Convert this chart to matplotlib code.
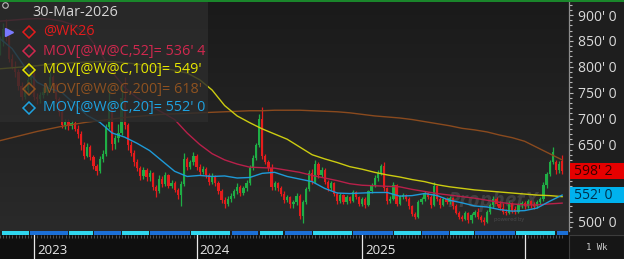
import matplotlib
matplotlib.use("Agg")
import matplotlib.pyplot as plt
import matplotlib.transforms as mtransforms
from matplotlib.patches import Rectangle
from matplotlib.lines import Line2D
from matplotlib.colors import LinearSegmentedColormap
from matplotlib.ticker import MultipleLocator
import numpy as np
import pandas as pd

plt.rcParams['font.family'] = ['Open Sans', 'DejaVu Sans']

# weekly bars, @W continuation, week starting Mondays
dates = pd.date_range("2022-10-17", periods=181, freq="7D")

opens = [835, 848, 872, 860, 815, 800, 790, 762, 742, 756,
         775, 790, 742, 738, 746, 752, 760, 780, 765, 738,
         712, 688, 694, 686, 692, 680, 670, 648, 628, 645,
         625, 608, 598, 622, 632, 684, 722, 650, 662, 672,
         740, 688, 648, 634, 615, 604, 588, 600, 586, 594,
         568, 560, 584, 574, 590, 570, 576, 562, 552, 574,
         622, 606, 616, 628, 606, 596, 602, 590, 578, 588,
         575, 560, 542, 534, 545, 550, 560, 568, 556, 566,
         576, 605, 624, 648, 700, 628, 616, 604, 568, 575,
         566, 555, 542, 548, 534, 538, 550, 512, 538, 564,
         594, 578, 612, 590, 600, 578, 565, 575, 555, 540,
         552, 538, 548, 540, 558, 548, 535, 545, 532, 560,
         572, 585, 595, 608, 565, 540, 545, 572, 535, 548,
         552, 545, 530, 516, 510, 538, 545, 556, 548, 532,
         570, 544, 533, 545, 538, 547, 530, 518, 509, 506,
         518, 503, 514, 520, 510, 504, 500, 520, 532, 545,
         535, 528, 520, 518, 536, 526, 520, 532, 537, 530,
         540, 533, 530, 538, 544, 572, 592, 615, 616, 600,
         618]
highs = [860, 885, 893, 866, 825, 812, 795, 770, 762, 780,
         795, 792, 750, 752, 760, 765, 790, 785, 768, 742,
         718, 700, 700, 698, 696, 688, 675, 655, 652, 648,
         630, 612, 628, 640, 690, 758, 726, 668, 690, 765,
         780, 692, 656, 640, 622, 608, 606, 604, 600, 596,
         572, 590, 588, 596, 592, 582, 580, 566, 580, 634,
         625, 620, 636, 632, 612, 608, 606, 594, 594, 590,
         580, 564, 548, 550, 556, 564, 576, 572, 570, 582,
         610, 630, 652, 708, 722, 632, 620, 612, 580, 578,
         570, 560, 552, 550, 542, 556, 554, 542, 568, 600,
         602, 620, 615, 606, 604, 582, 580, 578, 558, 556,
         555, 552, 550, 562, 560, 550, 548, 548, 562, 576,
         590, 600, 612, 616, 568, 550, 577, 574, 552, 556,
         554, 548, 532, 520, 542, 548, 560, 558, 552, 577,
         572, 548, 548, 548, 550, 549, 534, 522, 514, 522,
         520, 518, 524, 528, 514, 510, 524, 536, 550, 548,
         540, 536, 526, 540, 539, 530, 536, 540, 541, 544,
         542, 538, 542, 548, 578, 596, 620, 645, 620, 618,
         630]
lows = [822, 840, 850, 810, 795, 780, 755, 735, 738, 750,
        765, 735, 728, 730, 740, 745, 755, 755, 730, 705,
        682, 680, 678, 680, 675, 662, 640, 622, 625, 620,
        602, 590, 595, 615, 628, 680, 640, 642, 655, 668,
        680, 640, 628, 608, 598, 582, 584, 580, 580, 562,
        548, 556, 568, 570, 565, 566, 558, 545, 530, 570,
        600, 602, 610, 600, 590, 592, 585, 572, 574, 570,
        555, 536, 528, 530, 538, 546, 554, 550, 552, 560,
        572, 600, 620, 645, 622, 612, 598, 562, 562, 560,
        550, 536, 538, 528, 527, 532, 506, 498, 535, 560,
        574, 575, 585, 586, 574, 560, 562, 550, 534, 536,
        534, 535, 536, 538, 545, 530, 530, 528, 530, 556,
        568, 580, 590, 560, 535, 536, 542, 530, 532, 544,
        540, 526, 512, 505, 508, 534, 540, 544, 528, 530,
        540, 528, 530, 534, 535, 526, 515, 505, 502, 503,
        498, 498, 510, 505, 500, 494, 498, 516, 528, 530,
        524, 516, 514, 515, 518, 516, 518, 528, 526, 527,
        528, 526, 527, 534, 540, 566, 588, 612, 592, 595,
        592]
closes = [848, 872, 860, 815, 800, 790, 762, 742, 756, 775,
          790, 742, 738, 746, 752, 760, 780, 765, 738, 712,
          688, 694, 686, 692, 680, 670, 648, 628, 645, 625,
          608, 598, 622, 632, 684, 722, 650, 662, 672, 740,
          688, 648, 634, 615, 604, 588, 600, 586, 594, 568,
          560, 584, 574, 590, 570, 576, 562, 552, 574, 622,
          606, 616, 628, 606, 596, 602, 590, 578, 588, 575,
          560, 542, 534, 545, 550, 560, 568, 556, 566, 576,
          605, 624, 648, 700, 628, 616, 604, 568, 575, 566,
          555, 542, 548, 534, 538, 550, 512, 538, 564, 594,
          578, 612, 590, 600, 578, 565, 575, 555, 540, 552,
          538, 548, 540, 558, 548, 535, 545, 532, 560, 572,
          585, 595, 608, 565, 540, 545, 572, 535, 550, 552,
          545, 530, 516, 510, 538, 545, 556, 548, 532, 570,
          544, 533, 545, 538, 547, 530, 518, 509, 506, 518,
          503, 514, 520, 510, 504, 500, 520, 532, 545, 535,
          528, 520, 518, 536, 522, 520, 532, 537, 530, 540,
          533, 530, 538, 544, 572, 592, 615, 636, 600, 612,
          598.25]

# moving averages every 4th bar
ma_step = 4
ma20 = [855, 835, 800, 770, 758, 750, 728, 706, 693, 672, 664, 652,
        638, 618, 598, 588, 590, 588, 589, 585, 586, 594, 596, 588,
        583, 578, 565, 556, 555, 556, 557, 557, 550, 551, 555, 551,
        542, 537, 531, 529, 524, 521, 522, 527, 540, 552]
ma52 = [888, 890, 892, 893, 892, 888, 880, 862, 830, 790, 760, 740,
        725, 712, 698, 672, 650, 632, 620, 612, 606, 605, 604, 600,
        596, 590, 585, 580, 574, 571, 570, 569, 568, 563, 559, 555,
        552, 549, 546, 542, 538, 535, 533, 533, 535, 536.5]
ma100 = [796, 798, 800, 802, 805, 807, 808, 809, 810, 810, 808, 805,
         802, 798, 793, 788, 775, 755, 725, 705, 692, 680, 670, 660,
         645, 630, 622, 615, 607, 602, 596, 591, 587, 582, 578, 572,
         568, 565, 562, 560, 558, 556, 554, 552, 551, 549]
ma200 = [657, 663, 669, 675, 680, 685, 689, 693, 696, 699, 702, 704,
         706, 708, 709, 710, 711, 712, 713, 714, 715, 715, 716, 716,
         716, 715, 714, 713, 711, 708, 705, 703, 701, 698, 694, 690,
         686, 681, 678, 674, 668, 663, 656, 644, 632, 620]

# bars where the front contract rolls (session strip)
roll_bars = [9.5, 22, 30, 39, 48, 61, 74, 83, 91, 100, 113, 126, 135, 144, 152, 165, 178]

price_ticks = [500, 550, 600, 650, 700, 750, 800, 850, 900]
legend_rows = ["@WK26", "MOV[@W@C,52]= 536' 4", "MOV[@W@C,100]= 549'",
               "MOV[@W@C,200]= 618'", "MOV[@W@C,20]= 552' 0"]
last_price = "598' 2"
last_ma20 = "552' 0"
box_values = [598.25, 552.0]

GREEN = "#1fae45"
RED = "#e41c1c"
C20 = "#1e9ad8"
C52 = "#b8204a"
C100 = "#cccc10"
C200 = "#8a4a1e"

W, H = 624, 259
def frect(x0, y0, x1, y1):
    return [x0 / W, 1 - y1 / H, (x1 - x0) / W, (y1 - y0) / H]

fig = plt.figure(figsize=(6.24, 2.59), dpi=100, facecolor="#1e1e1e")

# background gradient of the price pane
ax_bg = fig.add_axes(frect(0, 0, 569, 231), zorder=0)
grad = np.linspace(0, 1, 200).reshape(-1, 1)
cmap = LinearSegmentedColormap.from_list("bg", ["#1a1a1a", "#2a2a2a"])
ax_bg.imshow(grad, aspect="auto", cmap=cmap, extent=[0, 1, 0, 1])
ax_bg.axis("off")

ax = fig.add_axes(frect(0, 0, 569, 231), zorder=1)
ax.set_facecolor("none")
x0, x1 = 0.12, 182.2
ax.set_xlim(x0, x1)
ax.set_ylim(482.6, 929)

idx = np.arange(len(closes))
o, h, l, c = map(np.array, (opens, highs, lows, closes))
col = np.where(c >= o, GREEN, RED)
ax.vlines(idx, l, h, colors=col, lw=0.9, zorder=2)
ax.bar(idx, np.maximum(np.abs(c - o), 1.5), bottom=np.minimum(o, c),
       width=0.72, color=col, lw=0, zorder=2)

ma_x = np.arange(0, len(closes), ma_step)
ax.plot(ma_x, ma200, color=C200, lw=1.0, zorder=3)
ax.plot(ma_x, ma100, color=C100, lw=1.0, zorder=3)
ax.plot(ma_x, ma52, color=C52, lw=1.0, zorder=3)
ax.plot(ma_x, ma20, color=C20, lw=1.0, zorder=3)

# watermark
ax.text(447 / 569, 1 - 202 / 231, "ProphetX", transform=ax.transAxes, fontsize=15,
        fontweight="bold", style="italic", color="#9a9aa0", alpha=0.22, va="center", zorder=1.5)
ax.text(494 / 569, 1 - 219 / 231, "powered by", transform=ax.transAxes, fontsize=4,
        color="#9a9aa0", alpha=0.3, va="center", zorder=1.5)

# legend panel
ax.add_patch(Rectangle((0, 1 - 122 / 231), 208 / 569, 122 / 231, transform=ax.transAxes,
                       fc="#2c2c2c", alpha=0.82, lw=0, zorder=5))
ax.text(32 / 569, 1 - 13 / 231, "30-Mar-2026", transform=ax.transAxes, fontsize=10.4,
        color="#d6d6d6", va="center", ha="left", zorder=6)
row_y = [32, 51, 70, 89, 108]
row_c = [RED, "#d0284e", "#e6e600", "#8e5220", "#1ea2e0"]
for txt, yy, cc in zip(legend_rows, row_y, row_c):
    ax.plot([29 / 569], [1 - yy / 231], marker="D", ms=6, mfc="none", mec=cc, mew=1.1,
            transform=ax.transAxes, clip_on=False, zorder=6)
    ax.text(43 / 569, 1 - yy / 231, txt, transform=ax.transAxes, fontsize=10.4,
            color=cc, va="center", ha="left", zorder=6)
ax.plot([9 / 569], [1 - 32 / 231], marker=">", ms=6, color="#7a7aff",
        transform=ax.transAxes, clip_on=False, zorder=6)
ax.plot([5 / 569], [1 - 5 / 231], marker="o", ms=4, mfc="none", mec="#bbbbbb", mew=0.8,
        transform=ax.transAxes, clip_on=False, zorder=6)

# price axis on the right; labels under the last-value boxes stay hidden
ax.set_xticks([])
ax.yaxis.tick_right()
ax.set_yticks(price_ticks)
ax.set_yticklabels(["" if min(abs(p - b) for b in box_values) < 20 else f"{p}' 0"
                    for p in price_ticks])
ax.yaxis.set_minor_locator(MultipleLocator(10))
ax.tick_params(axis="y", which="major", length=3.2, width=0.8, color="#b8b8b8",
               labelcolor="#dadada", labelsize=10, pad=3.5)
ax.tick_params(axis="y", which="minor", length=1.8, width=0.8, color="#b8b8b8")
for s in ["top", "left", "bottom"]:
    ax.spines[s].set_visible(False)
ax.spines["right"].set_color("#8c8c8c")
ax.spines["right"].set_linewidth(0.9)

# last price boxes
blend = mtransforms.blended_transform_factory(fig.transFigure, ax.transData)
for val, txt, fc, tc in [(box_values[0], last_price, "#e60000", "#3a0000"),
                          (box_values[1], last_ma20, "#00b2ee", "#00304c")]:
    fig.add_artist(Rectangle((570 / W, val - 16), 54 / W, 32, transform=blend,
                             fc=fc, lw=0, zorder=3))
    fig.text(574 / W, val, txt, transform=blend, fontsize=10, color=tc,
             va="center", ha="left", zorder=4)

# contract session strip
ax_s = fig.add_axes(frect(0, 231, 569, 235))
ax_s.set_facecolor("#101010")
ax_s.set_xlim(x0, x1)
ax_s.set_ylim(0, 1)
bounds = [0.7] + roll_bars + [x1]
for k in range(len(bounds) - 1):
    ax_s.add_patch(Rectangle((bounds[k] + 0.2, 0.1), bounds[k + 1] - bounds[k] - 0.4, 0.8,
                             fc="#2fd6ef" if k % 2 == 0 else "#1b6fd6", lw=0))
ax_s.axis("off")

# date axis
ax_d = fig.add_axes(frect(0, 235, 569, 259))
ax_d.set_facecolor("#0f0f0f")
ax_d.set_xlim(x0, x1)
ax_d.set_ylim(0, 1)
years = [2023, 2024, 2025, 2026]
for yr in years:
    yi = int(np.argmax(dates.year == yr))
    ax_d.axvline(yi, color="#e8e8e8", lw=0.9)
    if yr < 2026:
        ax_d.text(yi + 0.9, 0.36, str(yr), fontsize=9.5, color="#e8e8e8", va="center", ha="left")
ax_d.set_xticks(idx, minor=True)
ax_d.set_xticks([])
ax_d.set_yticks([])
ax_d.tick_params(axis="x", which="minor", top=True, bottom=False, direction="in",
                 length=2.2, width=0.6, color="#5a5a5a")
for s in ax_d.spines.values():
    s.set_visible(False)

# interval box bottom right
fig.add_artist(Rectangle((569 / W, 0), 55 / W, 24 / H, transform=fig.transFigure,
                         fc="#161616", ec="#3c3c3c", lw=0.8))
fig.text(597 / W, 1 - 247 / H, "1 Wk", fontsize=6.5, family="DejaVu Sans Mono",
         color="#cfcfcf", ha="center", va="center")

# green border on top
fig.add_artist(Line2D([0, 1], [1 - 0.6 / H] * 2, color="#1a8a2c", lw=1.4,
                      transform=fig.transFigure))

fig.savefig("out.png", dpi=100, facecolor=fig.get_facecolor())
